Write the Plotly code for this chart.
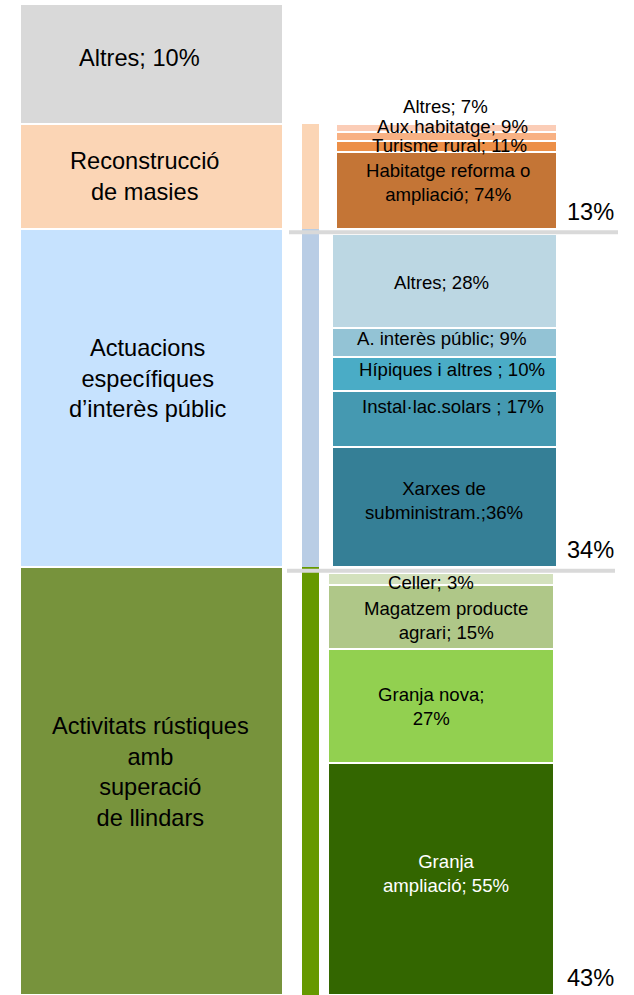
import plotly.graph_objects as go
import numpy as np

FONT = "Liberation Sans, Arial, sans-serif"

# ---------------- data ----------------
# main groups, bottom to top
group_labels = [
    "Activitats rústiques<br>amb<br>superació<br>de llindars",
    "Actuacions<br>específiques<br>d’interès públic",
    "Reconstrucció<br>de masies",
    "Altres; 10%",
]
group_pct = [43, 34, 13, 10]
# block heights as drawn in the source picture (the top two are not to scale)
group_drawn = [43.0, 34.0, 10.5, 12.1]

# breakdown of "Activitats rústiques", bottom to top
act_labels = ["Granja<br>ampliació; 55%", "Granja nova;<br>27%",
              "Magatzem producte<br>agrari; 15%", "Celler; 3%"]
act_values = [55, 27, 15, 3]

# breakdown of "Actuacions específiques", bottom to top
aep_labels = ["Xarxes de<br>subministram.;36%", "Instal·lac.solars ; 17%",
              "Hípiques i altres ; 10%", "A. interès públic; 9%", "Altres; 28%"]
aep_values = [36, 17, 10, 9, 28]

# breakdown of "Reconstrucció de masies", bottom to top
rec_labels = ["Habitatge reforma o<br>ampliació; 74%", "Turisme rural; 11%",
              "Aux.habitatge; 9%", "Altres; 7%"]
rec_values = [74, 11, 9, 7]

# ---------------- style / layout ----------------
group_colors = ["#77933c", "#c6e2fe", "#fbd5b5", "#d9d9d9"]
strip_colors = ["#669900", "#b9cde5", "#fbd5b5"]
detail_colors = [
    ["#336600", "#92d050", "#afc788", "#d3e1bd"],
    ["#357f96", "#4599b1", "#4aacc6", "#93c3d5", "#bcd7e3"],
    ["#c47536", "#ec8f47", "#f8b183", "#fbcdb7"],
]
detail_text_colors = [
    ["white", "black", "black", "black"],
    ["black"] * 5,
    ["black"] * 4,
]
# space left free under the separator line at the top of each detail column
detail_top_inset = [0.55, 0.55, 0.0]
# label offsets (x px, y px) for readability, as in the source
group_label_shift = [(-1, 9), (-4, 20), (-7, 0.5), (-12, 6)]
detail_label_shift = [
    [(4.5, 5.5), (-10, -1), (5, -4), (-10.5, -3.5)],
    [(-1, 6.5), (8, 13), (7, 4.3), (-3, 4.3), (-3, -1.5)],
    [(1.5, 8), (2.5, 1.5), (5.5, 9.5), (-1.5, 21.5)],
]

X_GROUP, W_GROUP = 151.5, 263
X_STRIP, W_STRIP = 310.5, 17
X_DETAIL = [441, 444.5, 446.5]
W_DETAIL = [226, 225, 221]
X_PCT = 590

W, H = 634, 995
TOP = 4

starts = np.concatenate([[0], np.cumsum(group_drawn)[:-1]])
total = float(np.sum(group_drawn))

fig = go.Figure()

# main column
fig.add_trace(go.Bar(
    x=[X_GROUP] * len(group_drawn), y=group_drawn, base=starts,
    width=W_GROUP, marker=dict(color=group_colors, line=dict(color="white", width=2)),
    hoverinfo="skip", showlegend=False,
))

# thin strip
fig.add_trace(go.Bar(
    x=[X_STRIP] * 3, y=group_drawn[:3], base=starts[:3],
    width=W_STRIP, marker=dict(color=strip_colors, line=dict(width=0)),
    hoverinfo="skip", showlegend=False,
))

annotations = []
details = [(act_labels, act_values), (aep_labels, aep_values), (rec_labels, rec_values)]
for g, (labels, values) in enumerate(details):
    vals = np.array(values, dtype=float)
    span = group_drawn[g] - detail_top_inset[g]
    heights = vals / vals.sum() * span
    bases = starts[g] + np.concatenate([[0], np.cumsum(heights)[:-1]])
    fig.add_trace(go.Bar(
        x=[X_DETAIL[g]] * len(vals), y=heights, base=bases, width=W_DETAIL[g],
        marker=dict(color=detail_colors[g], line=dict(color="white", width=2)),
        hoverinfo="skip", showlegend=False,
    ))
    for i, lab in enumerate(labels):
        dx, dy = detail_label_shift[g][i]
        annotations.append(dict(
            x=X_DETAIL[g], y=bases[i] + heights[i] / 2, text=lab,
            showarrow=False, xanchor="center", yanchor="middle",
            xshift=dx, yshift=dy,
            font=dict(family=FONT, size=18.6, color=detail_text_colors[g][i]),
        ))
    # group percentage at the right
    annotations.append(dict(
        x=X_PCT, y=starts[g], text=f"{group_pct[g]}%", showarrow=False,
        xanchor="center", yanchor="middle", yshift=17,
        font=dict(family=FONT, size=23.6, color="black"),
    ))

for i, lab in enumerate(group_labels):
    dx, dy = group_label_shift[i]
    annotations.append(dict(
        x=X_GROUP, y=starts[i] + group_drawn[i] / 2, text=lab,
        showarrow=False, xanchor="center", yanchor="middle",
        xshift=dx, yshift=dy,
        font=dict(family=FONT, size=23.6, color="black"),
    ))

# grey separators at group boundaries
shapes = []
for b, (x0, x1) in zip(starts[1:3], [(287, 615), (289, 618)]):
    shapes.append(dict(
        type="rect", xref="x", yref="y", x0=x0, x1=x1,
        ysizemode="pixel", yanchor=b, y0=-1.5, y1=-5.5,
        fillcolor="#d9d9d9", line=dict(width=0), layer="above",
    ))

fig.update_layout(
    width=W, height=H,
    margin=dict(l=0, r=0, t=TOP, b=0, pad=0),
    paper_bgcolor="white", plot_bgcolor="white",
    barmode="overlay", bargap=0,
    xaxis=dict(range=[0, W], visible=False, fixedrange=True),
    yaxis=dict(range=[0, total], visible=False, fixedrange=True),
    annotations=annotations, shapes=shapes,
    font=dict(family=FONT),
)

fig.write_html("out.html", config={"displayModeBar": False},
               post_script="document.body.style.margin='0';document.body.style.overflow='hidden';")
